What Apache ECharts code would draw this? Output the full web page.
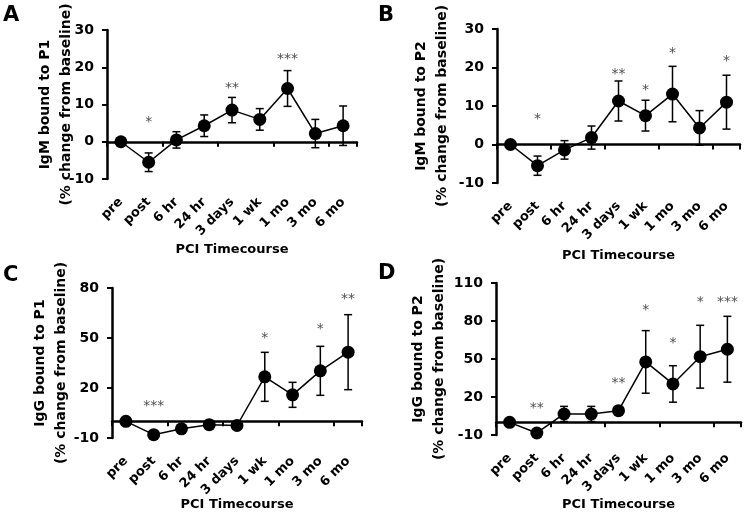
<!DOCTYPE html>
<html><head><meta charset="utf-8">
<script src="https://cdn.jsdelivr.net/npm/echarts@6/dist/echarts.min.js"></script>
<style>html,body{margin:0;padding:0;background:#fff}#c{width:745px;height:519px}</style>
</head><body><div id="c"></div>
<script>
const categories = ['pre', 'post', '6 hr', '24 hr', '3 days', '1 wk', '1 mo', '3 mo', '6 mo'];

const meanA = [0, -5.5, 0.5, 4.3, 8.5, 6.0, 14.3, 2.2, 4.3];
const errA  = [0, 2.5, 2.2, 2.9, 3.4, 2.9, 4.8, 3.8, 5.3];
const starA = ['', '*', '', '', '**', '', '***', '', ''];
const starPosA = [null, 5.6, null, null, 14.6, null, 22.5, null, null];

const meanB = [0, -5.5, -1.4, 1.8, 11.3, 7.5, 13.1, 4.3, 11.0];
const errB  = [0, 2.5, 2.4, 3.0, 5.2, 4.0, 7.2, 4.5, 7.0];
const starB = ['', '*', '', '', '**', '*', '*', '', '*'];
const starPosB = [null, 6.7, null, null, 18.5, 14.2, 24.0, null, 21.8];

const meanC = [0, -8.0, -4.5, -2.0, -2.5, 26.7, 15.9, 30.3, 41.5];
const errC  = [0, 0, 0, 0, 0, 14.7, 7.5, 14.7, 22.5];
const starC = ['', '***', '', '', '', '*', '', '*', '**'];
const starPosC = [null, 9.6, null, null, null, 50.6, null, 55.6, 73.6];

const meanD = [0, -8.4, 6.6, 6.6, 9.2, 47.7, 30.3, 51.8, 57.7];
const errD  = [0, 0, 6.0, 6.0, 0, 24.7, 14.4, 24.8, 26.0];
const starD = ['', '**', '', '', '**', '*', '*', '*', '***'];
const starPosD = [null, 12.0, null, null, 31.8, 89.0, 63.0, 95.8, 95.8];

const yTicksA = {min: -10, max: 30, interval: 10};
const yTicksB = {min: -10, max: 30, interval: 10};
const yTicksC = {min: -10, max: 80, interval: 30};
const yTicksD = {min: -10, max: 110, interval: 30};

const yNames = ['IgM bound to P1', 'IgM bound to P2', 'IgG bound to P1', 'IgG bound to P2'];
const letters = ['A', 'B', 'C', 'D'];
const xName = 'PCI Timecourse';

const FONT = 'DejaVu Sans';
const panels = [
  {mean: meanA, err: errA, stars: starA, starPos: starPosA, y: yTicksA, grid: {left: 107, top: 30, width: 250, height: 149}, nameGap: 64, yNameGap: 30, letterPos: [3, 5]},
  {mean: meanB, err: errB, stars: starB, starPos: starPosB, y: yTicksB, grid: {left: 497, top: 29, width: 243, height: 154}, nameGap: 66, yNameGap: 44, letterPos: [378, 5]},
  {mean: meanC, err: errC, stars: starC, starPos: starPosC, y: yTicksC, grid: {left: 112, top: 288, width: 250, height: 150}, nameGap: 60, yNameGap: 40, letterPos: [3, 265]},
  {mean: meanD, err: errD, stars: starD, starPos: starPosD, y: yTicksD, grid: {left: 496, top: 283, width: 245, height: 152}, nameGap: 63, yNameGap: 46, letterPos: [378, 263]}
];

const option = {
  animation: false,
  backgroundColor: '#fff',
  title: [], grid: [], xAxis: [], yAxis: [], series: []
};

panels.forEach((p, i) => {
  option.title.push({text: letters[i], left: p.letterPos[0], top: p.letterPos[1], padding: 0,
    textStyle: {fontFamily: FONT, fontWeight: 'bold', fontSize: 21, color: '#000'}});
  option.grid.push(Object.assign({containLabel: false}, p.grid));
  option.xAxis.push({
    type: 'category', gridIndex: i, data: categories, boundaryGap: true,
    axisLine: {show: true, onZero: true, lineStyle: {color: '#000', width: 2.5}},
    axisTick: {show: true, length: 5, alignWithLabel: false, lineStyle: {color: '#000', width: 2}},
    axisLabel: {show: false}, splitLine: {show: false}
  });
  option.xAxis.push({
    type: 'category', gridIndex: i, data: categories, boundaryGap: true, position: 'bottom',
    axisLine: {show: false, onZero: false}, axisTick: {show: false}, splitLine: {show: false},
    axisLabel: {show: true, rotate: 45, interval: 0, margin: 21, color: '#000',
      fontFamily: FONT, fontWeight: 'bold', fontSize: 13},
    name: xName, nameLocation: 'middle', nameGap: p.nameGap, nameMoveOverlap: false,
    nameTextStyle: {color: '#000', fontFamily: FONT, fontWeight: 'bold', fontSize: 13}
  });
  option.yAxis.push({
    type: 'value', gridIndex: i, min: p.y.min, max: p.y.max, interval: p.y.interval,
    axisLine: {show: true, onZero: false, lineStyle: {color: '#000', width: 2.5}},
    axisTick: {show: true, length: 5, lineStyle: {color: '#000', width: 2}},
    axisLabel: {color: '#000', fontFamily: FONT, fontWeight: 'bold', fontSize: 14, margin: 13},
    splitLine: {show: false},
    name: yNames[i] + '\n(% change from baseline)', nameLocation: 'middle', nameRotate: 90, nameGap: p.yNameGap,
    nameMoveOverlap: false,
    nameTextStyle: {color: '#000', fontFamily: FONT, fontWeight: 'bold', fontSize: 14, lineHeight: 21}
  });
  const xi = 2 * i;
  option.series.push({
    type: 'custom', xAxisIndex: xi, yAxisIndex: i, z: 2, silent: true,
    data: p.mean.map((m, j) => [j, m - p.err[j], m + p.err[j]]).filter((d, j) => p.err[j] > 0),
    encode: {x: 0, y: [1, 2]},
    renderItem: (params, api) => {
      const x = api.value(0);
      const lo = api.coord([x, api.value(1)]);
      const hi = api.coord([x, api.value(2)]);
      const hw = 4;
      const st = {stroke: '#000', lineWidth: 1.5};
      return {type: 'group', children: [
        {type: 'line', shape: {x1: lo[0], y1: lo[1], x2: hi[0], y2: hi[1]}, style: st},
        {type: 'line', shape: {x1: hi[0] - hw, y1: hi[1], x2: hi[0] + hw, y2: hi[1]}, style: st},
        {type: 'line', shape: {x1: lo[0] - hw, y1: lo[1], x2: lo[0] + hw, y2: lo[1]}, style: st}
      ]};
    }
  });
  option.series.push({
    type: 'line', xAxisIndex: xi, yAxisIndex: i, z: 3, data: p.mean,
    symbol: 'circle', symbolSize: 13, showSymbol: true,
    lineStyle: {color: '#000', width: 1.5}, itemStyle: {color: '#000'}
  });
  option.series.push({
    type: 'scatter', xAxisIndex: xi, yAxisIndex: i, z: 4, silent: true,
    symbolSize: 1, itemStyle: {color: 'rgba(0,0,0,0)'},
    data: p.starPos.map((v, j) => v == null ? null : {value: [j, v], name: p.stars[j]}).filter(d => d),
    label: {show: true, position: 'inside', formatter: '{b}', color: '#222',
      fontFamily: FONT, fontSize: 14, offset: [0, 1]}
  });
});

const chart = echarts.init(document.getElementById('c'), null, {renderer: 'canvas'});
chart.setOption(option);
</script>
</body></html>
